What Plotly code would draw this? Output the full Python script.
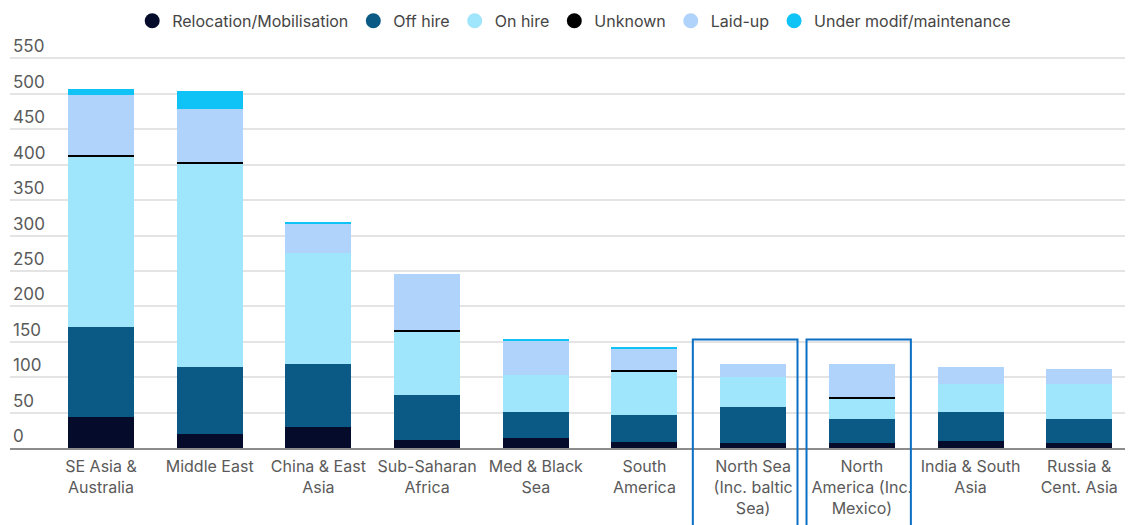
import plotly.graph_objects as go

# Regions (x-axis categories)
regions = [
    "SE Asia &<br>Australia",
    "Middle East",
    "China & East<br>Asia",
    "Sub-Saharan<br>Africa",
    "Med & Black<br>Sea",
    "South<br>America",
    "North Sea<br>(Inc. baltic<br>Sea)",
    "North<br>America (Inc.<br>Mexico)",
    "India & South<br>Asia",
    "Russia &<br>Cent. Asia",
]

# Fleet status counts per region (stacked bottom to top)
relocation = [44, 20, 29, 12, 14, 9, 7, 7, 10, 7]
off_hire = [127, 94, 89, 63, 37, 38, 51, 34, 41, 34]
on_hire = [240, 288, 158, 90, 52, 61, 42, 29, 40, 50]
unknown = [2, 2, 0, 2, 0, 2, 0, 2, 0, 0]
laid_up = [86, 74, 41, 79, 49, 31, 18, 46, 23, 20]
under_modif = [8, 26, 2, 0, 2, 2, 0, 0, 0, 0]

y_ticks = [0, 50, 100, 150, 200, 250, 300, 350, 400, 450, 500, 550]

# Regions singled out with an outline
highlighted = ["North Sea<br>(Inc. baltic<br>Sea)", "North<br>America (Inc.<br>Mexico)"]

series = [
    ("Relocation/Mobilisation", relocation, "#050b2b"),
    ("Off hire", off_hire, "#0b5985"),
    ("On hire", on_hire, "#9fe5fc"),
    ("Unknown", unknown, "#000000"),
    ("Laid-up", laid_up, "#afd3fb"),
    ("Under modif/maintenance", under_modif, "#0fc3f7"),
]

FONT = "Inter, Roboto, sans-serif"

fig = go.Figure()
for name, vals, color in series:
    fig.add_trace(go.Bar(
        x=regions, y=vals, name=name, showlegend=False,
        marker=dict(color=color, line=dict(width=0)),
    ))
# Circle markers for the legend
for name, vals, color in series:
    fig.add_trace(go.Scatter(
        x=[None], y=[None], mode="markers", name=name,
        marker=dict(symbol="circle", size=15, color=color),
    ))

# Outline boxes around the highlighted regions
box_offsets = {highlighted[0]: (-0.555, 0.408), highlighted[1]: (-0.509, 0.451)}
for reg in highlighted:
    idx = regions.index(reg)
    lo, hi = box_offsets[reg]
    fig.add_shape(
        type="rect", xref="x", yref="paper",
        x0=idx + lo, x1=idx + hi, y0=-0.4, y1=0.2553,
        line=dict(color="#0b6fc4", width=2), fillcolor="rgba(0,0,0,0)",
    )

fig.update_layout(
    width=1129, height=525,
    barmode="stack", bargap=0.393,
    plot_bgcolor="white", paper_bgcolor="white",
    margin=dict(l=10, r=4, t=21, b=77),
    font=dict(family=FONT, size=15, color="#555555"),
    legend=dict(
        orientation="h", x=0.506, xanchor="center", y=1.005, yanchor="middle",
        font=dict(size=16, color="#454545"), itemclick=False,
        traceorder="normal",
    ),
    xaxis=dict(
        type="category", range=[-0.837, 9.421],
        showline=True, linecolor="#8c8c8c", linewidth=2,
        showgrid=False, ticks="", ticklabelstandoff=3,
        tickfont=dict(size=16, color="#5a5a5a"),
    ),
    yaxis=dict(
        range=[0, 600], tickvals=y_ticks,
        showgrid=True, gridcolor="#e4e4e4", gridwidth=1.5,
        zeroline=False, showline=False,
        ticklabelposition="inside top", tickfont=dict(size=17, color="#5a5a5a"),
    ),
)

fig.write_html("out.html")
